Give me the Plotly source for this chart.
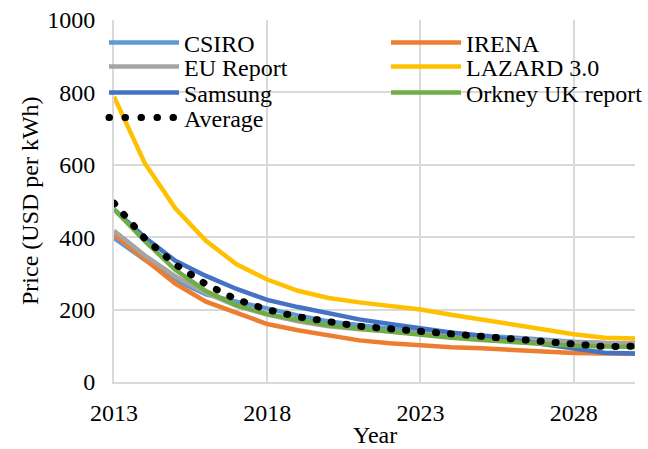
import plotly.graph_objects as go

years = list(range(2013, 2031))

csiro = [398, 338, 282, 242, 222, 202, 184, 167, 156, 147, 140, 134, 127, 120, 115, 111, 108, 107]
irena = [407, 340, 272, 222, 190, 160, 143, 128, 115, 107, 101, 96, 93, 88, 84, 80, 79, 78]
eu_report = [418, 350, 292, 246, 210, 186, 168, 154, 146, 139, 134, 128, 122, 117, 113, 110, 108, 108]
lazard = [788, 605, 480, 390, 325, 283, 252, 232, 220, 210, 200, 186, 172, 158, 145, 132, 122, 120]
samsung = [477, 400, 335, 293, 257, 227, 207, 189, 173, 160, 147, 137, 128, 116, 102, 90, 81, 79]
orkney = [477, 390, 310, 251, 212, 188, 172, 157, 148, 139, 129, 122, 116, 110, 104, 100, 98, 97]
average = [494, 397, 325, 270, 228, 200, 180, 167, 154, 147, 140, 133, 125, 116, 109, 103, 98, 99]

x_ticks = [2013, 2018, 2023, 2028]
y_ticks = [0, 200, 400, 600, 800, 1000]

series = [
    ("CSIRO", csiro, "#5B9BD5"),
    ("IRENA", irena, "#ED7D31"),
    ("EU Report", eu_report, "#A5A5A5"),
    ("LAZARD 3.0", lazard, "#FFC000"),
    ("Samsung", samsung, "#4472C4"),
    ("Orkney UK report", orkney, "#70AD47"),
]
# legend slot (column x of the line sample start, row centre y) in pixels
legend_slots = [(108, 43), (390, 43), (108, 67), (390, 67), (108, 93), (390, 93), (108, 118)]
legend_ids = ["legend"] + ["legend%d" % i for i in range(2, 8)]

FONT = "Liberation Serif"
fig = go.Figure()
for (name, vals, color), lid in zip(series, legend_ids):
    fig.add_trace(go.Scatter(x=years, y=vals, name=name, mode="lines",
                             line=dict(color=color, width=4.5), legend=lid))
fig.add_trace(go.Scatter(x=years, y=average, name="Average", mode="lines",
                         line=dict(color="black", width=7, dash="1px,14px"),
                         legend=legend_ids[6]))

legends = {}
for lid, (lx, ly) in zip(legend_ids, legend_slots):
    legends[lid] = dict(xref="container", yref="container",
                        x=(lx - 4) / 648, y=1 - ly / 449,
                        xanchor="left", yanchor="middle",
                        bgcolor="rgba(0,0,0,0)", itemwidth=70, visible=True,
                        font=dict(family=FONT, size=24, color="black"))

fig.update_layout(
    width=648, height=449, showlegend=True,
    margin=dict(l=114, r=13, t=20, b=67, autoexpand=False),
    paper_bgcolor="white", plot_bgcolor="white",
    font=dict(family=FONT, size=24, color="black"),
    xaxis=dict(range=[2013, 2030], tickvals=x_ticks, ticktext=[str(v) for v in x_ticks],
               showgrid=True, gridcolor="#D9D9D9", gridwidth=2,
               showline=True, linecolor="#D9D9D9", linewidth=2,
               zeroline=False, ticks="", ticklabelstandoff=8,
               tickfont=dict(family=FONT, size=24, color="black")),
    yaxis=dict(range=[0, 1000], tickvals=y_ticks,
               showgrid=True, gridcolor="#D9D9D9", gridwidth=2,
               showline=True, linecolor="#D9D9D9", linewidth=2,
               zeroline=False, ticks="", ticklabelstandoff=12,
               tickfont=dict(family=FONT, size=24, color="black")),
    annotations=[
        dict(text="Year", xref="paper", yref="paper", x=0.5, y=0, yshift=-53,
             xanchor="center", yanchor="middle", showarrow=False,
             font=dict(family=FONT, size=24, color="black")),
        dict(text="Price (USD per kWh)", xref="paper", yref="paper", x=0, y=0.5,
             xshift=-84, xanchor="center", yanchor="middle", textangle=-90,
             showarrow=False, font=dict(family=FONT, size=24, color="black")),
    ],
    **legends,
)

post = """
document.body.style.margin = '0';
document.body.style.padding = '0';
var gd = document.getElementById('{plot_id}');
function fixDots(){
  var traces = gd.querySelectorAll('.scatterlayer .trace');
  if (traces.length) {
    traces[traces.length-1].querySelectorAll('path.js-line').forEach(function(p){
      p.style.strokeLinecap = 'round';
    });
  }
  gd.querySelectorAll('g.traces').forEach(function(t){
    if ((t.textContent || '').indexOf('Average') >= 0) {
      t.querySelectorAll('path').forEach(function(p){
        if (p.getAttribute('d') && p.getAttribute('d').indexOf('h') >= 0) {
          p.style.strokeLinecap = 'round';
          p.style.strokeDasharray = '0.5px,15.5px';
          p.style.strokeWidth = '7px';
        }
      });
    }
  });
}
fixDots();
[50, 200, 500, 1000, 2000].forEach(function(ms){ setTimeout(fixDots, ms); });
if (gd.on) gd.on('plotly_afterplot', fixDots);
"""

fig.write_html("out.html", post_script=post, config={"displayModeBar": False})
